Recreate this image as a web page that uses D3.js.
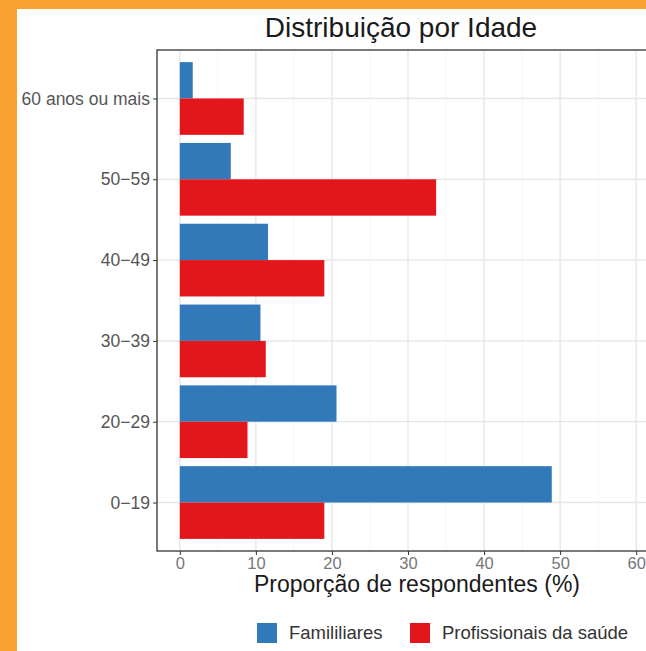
<!DOCTYPE html>
<html>
<head>
<meta charset="utf-8">
<script src="https://cdn.jsdelivr.net/npm/d3@7"></script>
<style>
  html, body { margin: 0; padding: 0; background: #fff; }
  svg { display: block; font-family: "Liberation Sans", Arial, sans-serif; }
</style>
</head>
<body>
<div id="chart"></div>
<script>
// --- Data ---
const ageGroups = ['60 anos ou mais', '50\u221259', '40\u221249', '30\u221239', '20\u221229', '0\u221219'];
const seriesNames = ['Famililiares', 'Profissionais da saúde'];
const familiares = [1.7, 6.7, 11.6, 10.6, 20.6, 48.9];
const profissionais = [8.4, 33.7, 19.0, 11.3, 8.9, 19.0];
const xTicks = [0, 10, 20, 30, 40, 50, 60];
const colors = ['#3179b9', '#e3161b'];

// --- Chart ---
const width = 646, height = 651;
const panel = {left: 157, right: 659, top: 50, bottom: 551};

const svg = d3.select('#chart')
  .append('svg')
  .attr('width', width)
  .attr('height', height);

// orange frame
svg.append('rect').attr('x', 0).attr('y', 0).attr('width', width).attr('height', height).attr('fill', '#f9a431');
svg.append('rect').attr('x', 17).attr('y', 9).attr('width', width - 17).attr('height', height - 9).attr('fill', '#fff');

const x = d3.scaleLinear()
  .domain([-3, 63])
  .range([panel.left, panel.right]);

// ggplot-like discrete axis: centers spaced evenly with 0.6 units expansion
const step = (panel.bottom - panel.top) / (ageGroups.length - 1 + 1.2);
const y = d3.scalePoint()
  .domain(ageGroups)
  .range([panel.top + step * 0.6, panel.bottom - step * 0.6]);
const barH = step * 0.45;

const g = svg.append('g');

// minor gridlines
g.selectAll('.minor')
  .data(d3.range(5, 60, 10))
  .join('line')
  .attr('x1', d => x(d)).attr('x2', d => x(d))
  .attr('y1', panel.top).attr('y2', panel.bottom)
  .attr('stroke', '#f2f2f2').attr('stroke-width', 0.8);

// major gridlines
g.selectAll('.major-x')
  .data(xTicks)
  .join('line')
  .attr('x1', d => x(d)).attr('x2', d => x(d))
  .attr('y1', panel.top).attr('y2', panel.bottom)
  .attr('stroke', '#e6e6e6').attr('stroke-width', 1.3);

g.selectAll('.major-y')
  .data(ageGroups)
  .join('line')
  .attr('x1', panel.left).attr('x2', panel.right)
  .attr('y1', d => y(d)).attr('y2', d => y(d))
  .attr('stroke', '#e6e6e6').attr('stroke-width', 1.3);

// bars
const rows = ageGroups.map((a, i) => ({age: a, vals: [familiares[i], profissionais[i]]}));
rows.forEach(r => {
  r.vals.forEach((v, k) => {
    g.append('rect')
      .attr('x', x(0))
      .attr('y', y(r.age) - barH + k * barH)
      .attr('width', x(v) - x(0))
      .attr('height', barH)
      .attr('fill', colors[k]);
  });
});

// panel border
svg.append('rect')
  .attr('x', panel.left).attr('y', panel.top)
  .attr('width', panel.right - panel.left).attr('height', panel.bottom - panel.top)
  .attr('fill', 'none').attr('stroke', '#333').attr('stroke-width', 1.3);

// x axis
const xAxis = svg.append('g')
  .attr('transform', `translate(0,${panel.bottom})`)
  .call(d3.axisBottom(x).tickValues(xTicks).tickSize(4).tickPadding(2));
xAxis.select('.domain').remove();
xAxis.selectAll('line').attr('stroke', '#333');
xAxis.selectAll('text').attr('fill', '#777').attr('font-size', 16.5).attr('font-family', 'Liberation Sans, Arial, sans-serif');

// y axis
const yAxis = svg.append('g')
  .attr('transform', `translate(${panel.left},0)`)
  .call(d3.axisLeft(y).tickSize(4).tickPadding(3));
yAxis.select('.domain').remove();
yAxis.selectAll('line').attr('stroke', '#333');
yAxis.selectAll('text').attr('fill', '#555').attr('font-size', 17.5).attr('font-family', 'Liberation Sans, Arial, sans-serif');

// title
svg.append('text')
  .attr('x', 401).attr('y', 37)
  .attr('text-anchor', 'middle')
  .attr('font-size', 28)
  .attr('fill', '#1a1a1a')
  .text('Distribuição por Idade');

// x axis title
svg.append('text')
  .attr('x', 417).attr('y', 592)
  .attr('text-anchor', 'middle')
  .attr('font-size', 23)
  .attr('fill', '#1a1a1a')
  .text('Proporção de respondentes (%)');

// legend
const legendX = [257, 410];
seriesNames.forEach((name, k) => {
  svg.append('rect')
    .attr('x', legendX[k]).attr('y', 623)
    .attr('width', 20).attr('height', 20)
    .attr('fill', colors[k]);
  svg.append('text')
    .attr('x', legendX[k] + 32).attr('y', 633)
    .attr('dy', '0.35em')
    .attr('font-size', 18.5)
    .attr('fill', '#333')
    .text(name);
});
</script>
</body>
</html>
